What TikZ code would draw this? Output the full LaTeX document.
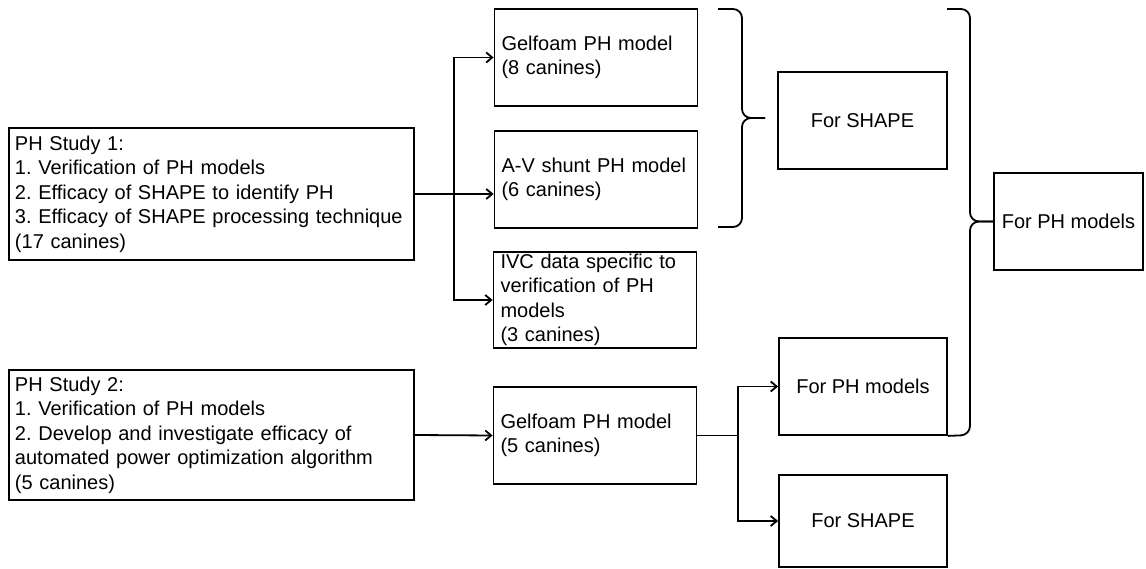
\documentclass[tikz,border=0pt]{standalone}
\usepackage{fontspec}
\setmainfont{Liberation Sans}
\usetikzlibrary{arrows.meta}

\newcommand{\diagfont}{\fontsize{20bp}{24.5bp}\selectfont\frenchspacing\hyphenpenalty=10000\relax}

\begin{document}
\begin{tikzpicture}[x=1bp, y=-1bp, line width=1.8bp,
    font=\diagfont,
    >={Straight Barb[length=6bp, width=10bp]},
    box/.style={draw, inner sep=0pt, align=left},
    study/.style={box, minimum width=405bp, text width=393bp},
    model/.style={box, minimum width=203bp, minimum height=97bp, text width=189bp},
    purpose/.style={box, minimum width=168bp, minimum height=97bp, align=center},
    brk/.style={rounded corners=9bp}]
        \useasboundingbox (0,0) rectangle (1146,569);

        % studies
        \node[study, minimum height=132bp] (study1) at (211.5,194)
            {PH Study 1:\\ 1. Verification of PH models\\ 2. Efficacy of SHAPE to identify PH\\ 3. Efficacy of SHAPE processing technique\\ (17 canines)};
        \node[study, minimum height=130bp] (study2) at (211.5,435)
            {PH Study 2:\\ 1. Verification of PH models\\ 2. Develop and investigate efficacy of\\ automated power optimization algorithm\\ (5 canines)};

        % models
        \node[model] (gelfoam1) at (596,57.5) {Gelfoam PH model\\ (8 canines)};
        \node[model] (avshunt) at (596,179.5) {A-V shunt PH model\\ (6 canines)};
        \node[model, minimum height=96bp] (ivc) at (595,300) {IVC data specific to\\ verification of PH\\ models\\ (3 canines)};
        \node[model] (gelfoam2) at (595,435.5) {Gelfoam PH model\\ (5 canines)};

        % uses
        \node[purpose, minimum width=169bp] (shape1) at (862.5,120.5) {For SHAPE};
        \node[purpose] (phmod2) at (863,386.5) {For PH models};
        \node[purpose, minimum height=92bp] (shape2) at (863,521) {For SHAPE};
        \node[purpose, minimum width=149bp] (phmod1) at (1068.5,221.5) {For PH models};

        % study 1 branches
        \coordinate (split1) at (454,194);
        \draw[->] (study1.east) -- (study1.east -| avshunt.west);
        \draw[->] (split1) |- (gelfoam1.west);
        \draw[->] (split1) |- (ivc.west);

        % study 2 branches
        \draw[->] (study2.east) -- (gelfoam2.west);
        \coordinate (split2) at (738,435.5);
        \draw (gelfoam2.east) -- (split2);
        \draw[->] (split2) |- (phmod2.west);
        \draw[->] (split2) |- (shape2.west);

        % braces
        \draw[brk] (718,9) -- (742,9) -- (742,118) -- (765,118);
        \draw[brk] (718,227) -- (742,227) -- (742,118) -- (765,118);
        \draw[brk] (947,9) -- (970,9) -- (970,221.5) -- (phmod1.west);
        \draw[brk] (phmod2.south east) -- (970,435) -- (970,221.5) -- (phmod1.west);
\end{tikzpicture}
\end{document}
